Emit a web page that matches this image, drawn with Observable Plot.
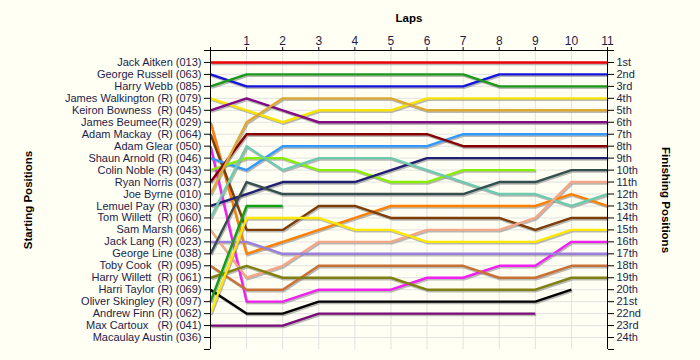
<!DOCTYPE html>
<html><head><meta charset="utf-8">
<script src="https://cdn.jsdelivr.net/npm/d3@7"></script>
<script src="https://cdn.jsdelivr.net/npm/@observablehq/plot@0.6"></script>
<style>
html,body{margin:0;padding:0;background:#fffff3;}
</style></head><body><div id="chart"></div>
<script>
const drivers = [
  "Jack Aitken (013)", "George Russell (063)", "Harry Webb (085)", "James Walkington (R) (079)",
  "Keiron Bowness  (R) (045)", "James Beumee(R) (029)", "Adam Mackay  (R) (064)", "Adam Glear (050)",
  "Shaun Arnold (R) (046)", "Colin Noble (R) (043)", "Ryan Norris (037)", "Joe Byrne (010)",
  "Lemuel Pay (R) (030)", "Tom Willett  (R) (060)", "Sam Marsh (066)", "Jack Lang (R) (023)",
  "George Line (038)", "Toby Cook  (R) (095)", "Harry Willett  (R) (061)", "Harri Taylor (R) (069)",
  "Oliver Skingley (R) (097)", "Andrew Finn (R) (062)", "Max Cartoux   (R) (041)", "Macaulay Austin (036)"
];
const lineColors = [
  "#ee0000", "#1414dc", "#189a18", "#f8e400", "#820a82", "#ff8000", "#7e3c06", "#f020f0",
  "#3399ff", "#88ee00", "#860000", "#dcaa30", "#202070", "#6ecaae", "#f4a688", "#9a80dc",
  "#344e4e", "#c87137", "#808010", "#000000", "#10a010", "#ffe800", "#7a0a7a", "#999999"
];
// position at the start (lap 0) and after each lap, one list per driver
const lapPositions = [
  [1, 1, 1, 1, 1, 1, 1, 1, 1, 1, 1, 1],
  [2, 3, 3, 3, 3, 3, 3, 3, 2, 2, 2, 2],
  [3, 2, 2, 2, 2, 2, 2, 2, 3, 3, 3, 3],
  [4, 5, 6, 5, 5, 5, 4, 4, 4, 4, 4, 4],
  [5, 4, 5, 6, 6, 6, 6, 6, 6, 6, 6, 6],
  [6, 17, 16, 15, 14, 13, 13, 13, 13, 13, 12, 13],
  [7, 15, 15, 13, 13, 14, 14, 14, 14, 15, 14, 14],
  [8, 21, 21, 20, 20, 20, 19, 19, 18, 18, 16, 16],
  [9, 10, 8, 8, 8, 8, 8, 7, 7, 7, 7, 7],
  [10, 9, 9, 10, 10, 11, 11, 10, 10, 10],
  [11, 7, 7, 7, 7, 7, 7, 8, 8, 8, 8, 8],
  [12, 6, 4, 4, 4, 4, 5, 5, 5, 5, 5, 5],
  [13, 12, 11, 11, 11, 10, 9, 9, 9, 9, 9, 9],
  [14, 8, 10, 9, 9, 9, 10, 11, 12, 12, 13, 12],
  [15, 19, 18, 16, 16, 16, 15, 15, 15, 14, 11, 11],
  [16, 16, 17, 17, 17, 17, 17, 17, 17, 17, 17, 17],
  [17, 11, 12, 12, 12, 12, 12, 12, 11, 11, 10, 10],
  [18, 20, 20, 18, 18, 18, 18, 18, 19, 19, 18, 18],
  [19, 18, 19, 19, 19, 19, 20, 20, 20, 20, 19, 19],
  [20, 22, 22, 21, 21, 21, 21, 21, 21, 21, 20],
  [21, 13, 13],
  [22, 14, 14, 14, 15, 15, 16, 16, 16, 16, 15, 15],
  [23, 23, 23, 22, 22, 22, 22, 22, 22, 22],
  []
];
const finishLabels = [
  "1st", "2nd", "3rd", "4th", "5th", "6th", "7th", "8th", "9th", "10th", "11th", "12th",
  "13th", "14th", "15th", "16th", "17th", "18th", "19th", "20th", "21st", "22nd", "23rd", "24th"
];
const lapTicks = [0, 1, 2, 3, 4, 5, 6, 7, 8, 9, 10, 11];

const rows = [];
lapPositions.forEach((arr, i) => arr.forEach((p, lap) =>
  rows.push({driver: drivers[i], color: lineColors[i], lap, pos: p})));

const posTicks = d3.range(0, 26);
const textColor = "#1c1c4c";

const chart = Plot.plot({
  width: 700,
  height: 360,
  marginLeft: 210,
  marginRight: 93,
  marginTop: 50,
  marginBottom: 11,
  x: {domain: [0, 11], axis: null},
  y: {domain: [0, 25], reverse: true, axis: null},
  color: {type: "identity"},
  style: {background: "#fffff3", fontFamily: "'Liberation Sans', Arial, sans-serif", fontSize: "11px", color: "black"},
  marks: [
    Plot.ruleX(lapTicks.slice(1, 11), {stroke: "#e2e2e2", strokeWidth: 1}),
    Plot.ruleY(d3.range(1, 25), {stroke: "#e2e2e2", strokeWidth: 1}),
    Plot.line(rows, {x: "lap", y: "pos", z: "driver", stroke: "#808080", strokeOpacity: 0.55, strokeWidth: 2.4, dx: 1, dy: 1.5, strokeLinecap: "butt"}),
    Plot.line(rows, {x: "lap", y: "pos", z: "driver", stroke: "color", strokeWidth: 2.4, strokeLinecap: "butt"}),
    Plot.ruleX([0, 11], {stroke: "black", strokeWidth: 1}),
    Plot.ruleY([0], {stroke: "black", strokeWidth: 1}),
    Plot.axisX(lapTicks, {anchor: "top", tickSize: 4, tickPadding: 2, fontSize: 12, stroke: "black", fill: textColor,
      tickFormat: d => d === 0 ? "" : String(d), label: null}),
    Plot.axisY(posTicks, {anchor: "left", tickSize: 6, tickPadding: 3, stroke: "black", fill: textColor, fontSize: 11,
      tickFormat: d => drivers[d - 1] ?? "", label: null}),
    Plot.axisY(posTicks, {anchor: "right", tickSize: 6, tickPadding: 3, stroke: "black", fill: textColor, fontSize: 11,
      tickFormat: d => finishLabels[d - 1] ?? "", label: null}),
    Plot.text(["Laps"], {text: d => d, frameAnchor: "top", dy: -32, lineAnchor: "middle", fontWeight: "bold", fontSize: 11.5, fill: "black"}),
    Plot.text(["Starting Positions"], {text: d => d, frameAnchor: "left", dx: -182, rotate: -90, lineAnchor: "middle", textAnchor: "middle", fontWeight: "bold", fontSize: 11.5, fill: "black"}),
    Plot.text(["Finishing Positions"], {text: d => d, frameAnchor: "right", dx: 58, rotate: 90, lineAnchor: "middle", textAnchor: "middle", fontWeight: "bold", fontSize: 11.5, fill: "black"})
  ]
});
document.getElementById("chart").append(chart);
</script>
</body></html>
